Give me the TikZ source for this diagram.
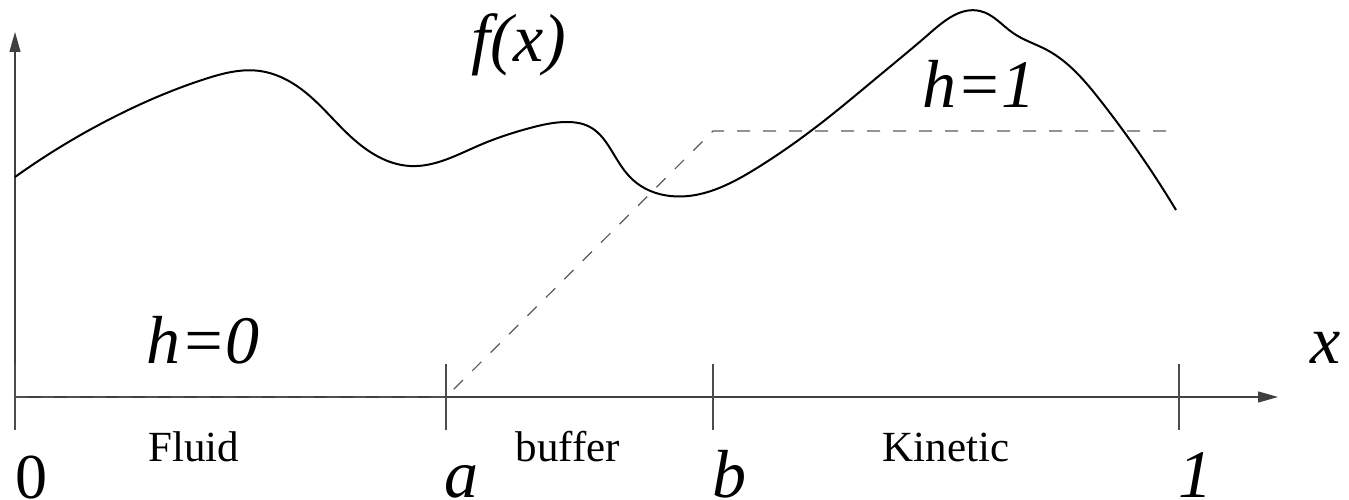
\documentclass[tikz,border=0pt]{standalone}
\usepackage{fontspec}
\setmainfont{Liberation Serif}[ItalicFont={Liberation Serif Italic}]
\newfontfamily\labit{Liberation Serif Italic}
\usetikzlibrary{arrows.meta,hobby}
\tikzset{
  axis/.style={line width=1.2pt, draw=black!75, -{Triangle[length=20pt,width=11pt]}},
  tickmark/.style={line width=1.1pt, draw=black!70},
  hline/.style={line width=1.2pt, draw=black!65, dash pattern=on 13pt off 13pt},
  curve/.style={line width=2pt, black},
  biglab/.style={font=\fontsize{68}{70}\selectfont\labit, inner sep=0pt, anchor=base},
  uplab/.style={font=\fontsize{64}{66}\selectfont, inner sep=0pt, anchor=base},
  reglab/.style={font=\fontsize{43}{45}\selectfont, inner sep=0pt, anchor=base}
}
\begin{document}
\begin{tikzpicture}[x=1pt,y=-1pt]
\useasboundingbox (0,0) rectangle (1349,500);
% axes
\coordinate (O) at (15,397);
\coordinate (Ybot) at (15,430);
\coordinate (Ytop) at (15,32);
\coordinate (Xend) at (1278,397);
\draw[axis] (Ybot) -- (Ytop);
\draw[axis] (O) -- (Xend);
% ticks
\coordinate (A) at (446,397);
\coordinate (B) at (713,397);
\coordinate (C) at (1179,397);
\foreach \t in {A,B,C}{
  \draw[tickmark] ([yshift=-33pt]\t) -- ([yshift=33pt]\t);
}
\draw[tickmark] (15,364) -- (15,430);
% h function
\coordinate (H1) at (713,131);
\coordinate (Hend) at (1168,131);
\draw[hline] (O) -- (A) -- (H1) -- (Hend);
% f(x)
\draw[curve, use Hobby shortcut] (15,177) .. (120,114) .. (205,79) .. (260,71)
 .. (305,92) .. (350,136) .. (410,166) .. (480,145) .. (530,128) .. (567,122)
 .. (590,127) .. (613,153) .. (633,180) .. (670,196) .. (757,168)
 .. (820,124) .. (880,75) .. (930,33) .. (980,11) .. (1013,33) .. (1047,50)
 .. (1100,100) .. (1176,210);
% labels
\node[biglab] (fx) at (519,62) {f(x)};
\node[biglab] (h1) at (979,108) {h=1};
\node[biglab] (h0) at (203,363) {h=0};
\node[biglab] (xl) at (1326,363) {x};
\node[reglab] (fluid) at (194,461) {Fluid};
\node[reglab] (buffer) at (568,461) {buffer};
\node[reglab] (kinetic) at (946,461) {Kinetic};
\node[uplab] (zero) at (31,498) {0};
\node[biglab] (la) at (461,497) {a};
\node[biglab] (lb) at (729,497) {b};
\node[biglab] (lone) at (1195,497) {1};
\end{tikzpicture}
\end{document}
